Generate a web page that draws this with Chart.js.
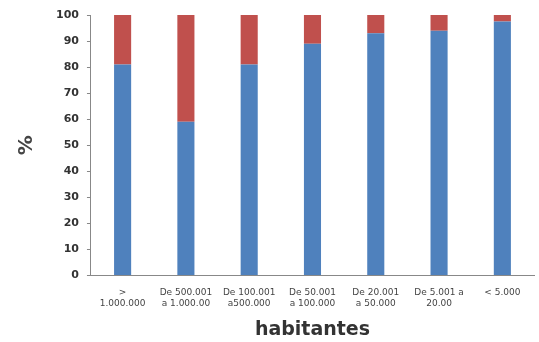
<!DOCTYPE html>
<html>
<head>
<meta charset="utf-8">
<script src="https://cdn.jsdelivr.net/npm/chart.js@4"></script>
<style>
  html, body { margin: 0; padding: 0; background: #fff; }
  #wrap { width: 539px; height: 342px; }
</style>
</head>
<body>
<div id="wrap"><canvas id="chart" width="539" height="342"></canvas></div>
<script>
// categorías de población
const categories = [
  ['>', '1.000.000'],
  ['De 500.001', 'a 1.000.00'],
  ['De 100.001', 'a500.000'],
  ['De 50.001', 'a 100.000'],
  ['De 20.001', 'a 50.000'],
  ['De 5.001 a', '20.00'],
  ['< 5.000', '']
];
const blueValues = [81, 59, 81, 89, 93, 94, 97.5];
const redValues = [19, 41, 19, 11, 7, 6, 2.5];
const yTicks = [0, 10, 20, 30, 40, 50, 60, 70, 80, 90, 100];

const ctx = document.getElementById('chart').getContext('2d');
new Chart(ctx, {
  type: 'bar',
  data: {
    labels: categories,
    datasets: [
      { label: 'A', data: blueValues, backgroundColor: '#4F81BD', barPercentage: 0.27, categoryPercentage: 1 },
      { label: 'B', data: redValues, backgroundColor: '#C0504D', barPercentage: 0.27, categoryPercentage: 1 }
    ]
  },
  options: {
    responsive: false,
    animation: false,
    layout: { padding: { top: 15, right: 5, left: 15, bottom: 2 } },
    plugins: { legend: { display: false }, tooltip: { enabled: false } },
    scales: {
      x: {
        stacked: true,
        grid: { display: false, drawTicks: false },
        border: { display: true, color: '#888', width: 1 },
        ticks: { color: '#444', font: { size: 9, family: 'DejaVu Sans', lineHeight: 1.25 }, maxRotation: 0, autoSkip: false, padding: 11 },
        title: { display: true, text: 'habitantes', color: '#333', font: { size: 19, weight: 'bold', family: 'DejaVu Sans', lineHeight: 1.05 }, padding: { top: 0, bottom: 0 } }
      },
      y: {
        stacked: true,
        min: 0,
        max: 100,
        afterBuildTicks: (axis) => { axis.ticks = yTicks.map(v => ({ value: v })); },
        grid: { drawOnChartArea: false, drawTicks: true, tickLength: 4, color: '#888' },
        border: { display: true, color: '#888', width: 1 },
        ticks: { color: '#333', font: { size: 11, family: 'DejaVu Sans', weight: 'bold' }, padding: 8 },
        title: { display: true, text: '%', color: '#444', font: { size: 20, weight: 'bold', family: 'DejaVu Sans' }, padding: { top: 0, bottom: 9 } }
      }
    }
  }
});
</script>
</body>
</html>
